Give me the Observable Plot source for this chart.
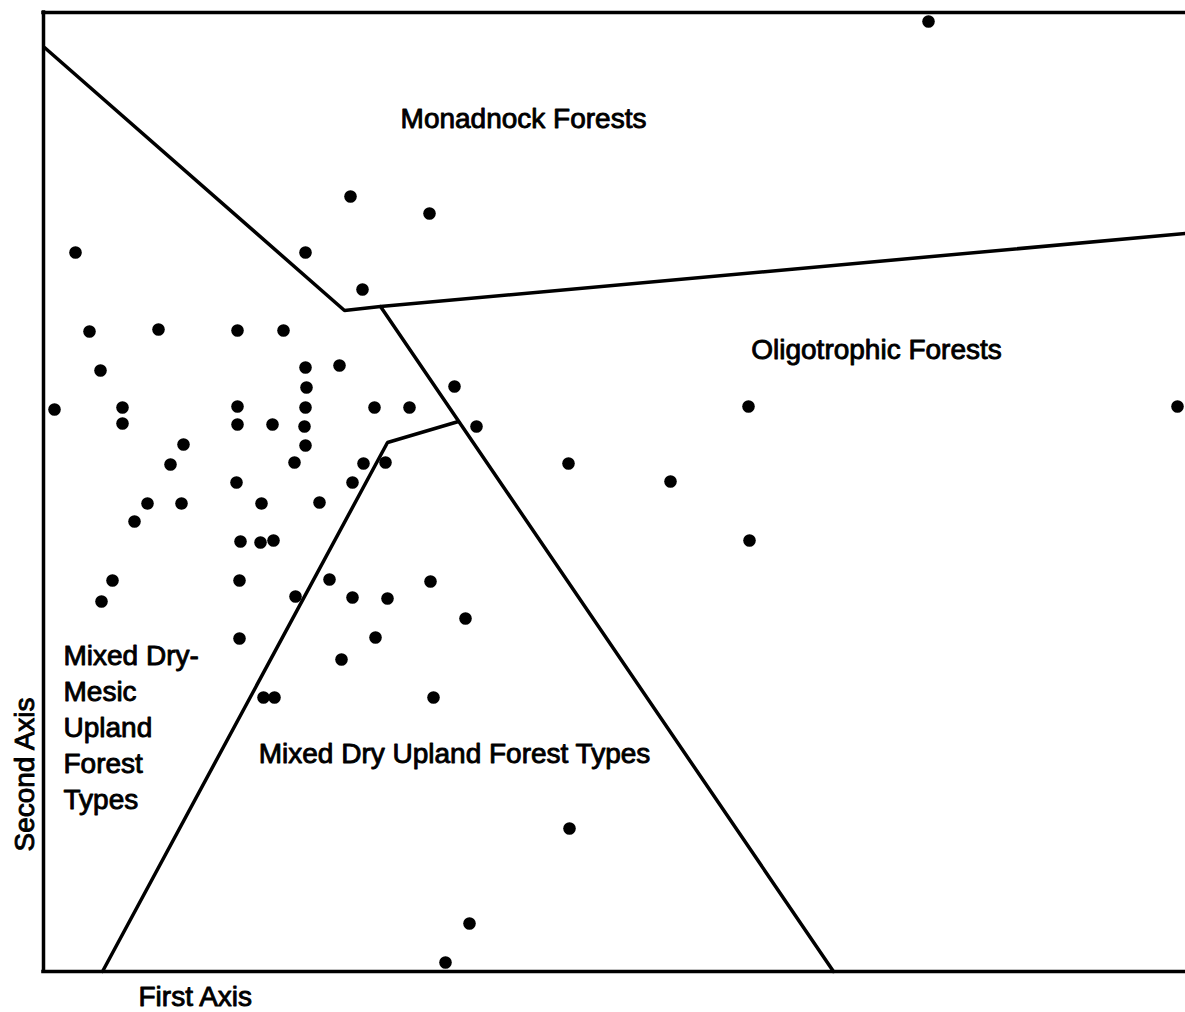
<!DOCTYPE html>
<html>
<head>
<meta charset="utf-8">
<script src="https://cdn.jsdelivr.net/npm/d3@7"></script>
<script src="https://cdn.jsdelivr.net/npm/@observablehq/plot@0.6"></script>
<style>
  html, body { margin: 0; padding: 0; background: #fff; }
  #chart svg { display: block; }
</style>
</head>
<body>
<div id="chart"></div>
<script>
// ---- Stand scores on the first and second ordination axes (arbitrary units) ----
const firstAxisScore = [
  885, 307, 386, 32, 262, 319,
  46, 115, 194, 240,
  57, 262, 296, 263, 411,
  11, 79, 194, 262, 331, 366, 705, 1134,
  79, 194, 229, 261, 433,
  140, 262,
  127, 251, 320, 342, 525,
  193, 309, 627,
  104, 138, 218, 276,
  91,
  197, 217, 230, 706,
  69, 196, 286, 387,
  58, 252, 309, 344,
  422,
  196, 332,
  298,
  220, 231, 390,
  526,
  426,
  402
];
const secondAxisScore = [
  950, 775, 758, 719, 719, 682,
  640, 642, 641, 641,
  601, 604, 606, 584, 585,
  562, 564, 565, 564, 564, 564, 565, 565,
  548, 547, 547, 545, 545,
  527, 526,
  507, 509, 508, 509, 508,
  489, 489, 490,
  468, 468, 468, 469,
  450,
  430, 429, 431, 431,
  391, 391, 392, 390,
  370, 375, 374, 373,
  353,
  333, 334,
  312,
  274, 274, 274,
  143,
  48,
  9
];

// ---- Boundaries between forest groups (vertices in axis units) ----
const monadnockEdgeX = [1, 301, 337, 1142];
const monadnockEdgeY = [924, 661, 665, 738];
const oligotrophicEdgeX = [337, 790];
const oligotrophicEdgeY = [665, 0];
const dryUplandEdgeX = [415, 344, 59];
const dryUplandEdgeY = [550, 529, 0];

// ---- Group labels ----
const groupLabels = ["Monadnock Forests", "Oligotrophic Forests", "Mixed Dry Upland Forest Types"];
const groupLabelX = [480, 833, 411];
const groupLabelY = [844, 613, 209];
const mesicLabel = ["Mixed Dry-\nMesic\nUpland\nForest\nTypes"];
const mesicLabelX = [20];
const mesicLabelY = [163];

// ---- Axis titles ----
const xTitle = "First Axis";
const yTitle = "Second Axis";
const xDomain = [0, 1142];
const yDomain = [0, 959];

// build tables
const stands = firstAxisScore.map((x, i) => ({x, y: secondAxisScore[i]}));
const toPath = (xs, ys, id) => xs.map((x, i) => ({x, y: ys[i], id}));
const edges = [
  ...toPath(monadnockEdgeX, monadnockEdgeY, "monadnock"),
  ...toPath(oligotrophicEdgeX, oligotrophicEdgeY, "oligotrophic"),
  ...toPath(dryUplandEdgeX, dryUplandEdgeY, "dryUpland")
];
const labels = groupLabels.map((t, i) => ({t, x: groupLabelX[i], y: groupLabelY[i]}));
const mesic = mesicLabel.map((t, i) => ({t, x: mesicLabelX[i], y: mesicLabelY[i]}));

const fontSize = 28;
const textStyle = {fill: "#000", stroke: "#000", strokeWidth: 0.9, fontSize};

const chart = Plot.plot({
  width: 1185,
  height: 1012,
  marginLeft: 43,
  marginRight: 0,
  marginTop: 12,
  marginBottom: 41,
  style: {fontFamily: "'Liberation Sans', Arial, Helvetica, sans-serif", background: "#fff", color: "#000"},
  x: {domain: xDomain, axis: null},
  y: {domain: yDomain, axis: null},
  marks: [
    Plot.ruleY([yDomain[0], yDomain[1]], {stroke: "#000", strokeWidth: 3.5, strokeLinecap: "square"}),
    Plot.ruleX([xDomain[0]], {stroke: "#000", strokeWidth: 3.5, strokeLinecap: "square"}),
    Plot.line(edges, {x: "x", y: "y", z: "id", stroke: "#000", strokeWidth: 3.5, strokeLinejoin: "miter", curve: "linear"}),
    Plot.dot(stands, {x: "x", y: "y", r: 6.3, fill: "#000", stroke: null}),
    Plot.text(labels, {x: "x", y: "y", text: "t", textAnchor: "middle", lineAnchor: "bottom", ...textStyle}),
    Plot.text(mesic, {x: "x", y: "y", text: "t", textAnchor: "start", lineAnchor: "bottom", lineHeight: 36 / fontSize, ...textStyle}),
    Plot.text([xTitle], {x: () => 95, y: () => -34, text: d => d, textAnchor: "start", lineAnchor: "bottom", ...textStyle}),
    Plot.text([yTitle], {x: () => -10, y: () => 197, text: d => d, rotate: -90, textAnchor: "middle", lineAnchor: "bottom", ...textStyle})
  ]
});
document.getElementById("chart").appendChild(chart);
</script>
</body>
</html>
